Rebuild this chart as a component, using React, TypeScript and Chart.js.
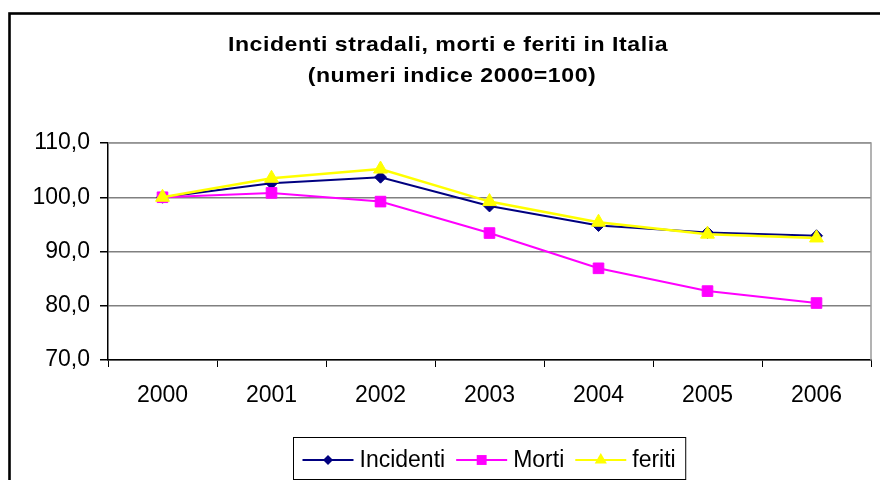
import React, { useEffect, useRef } from 'react';
import { Chart, registerables } from 'chart.js';

Chart.register(...registerables);

const years = ['2000', '2001', '2002', '2003', '2004', '2005', '2006'];
const incidenti = [100, 102.6, 103.7, 98.4, 94.8, 93.5, 92.9];
const morti = [100, 100.8, 99.2, 93.4, 86.9, 82.7, 80.5];
const feriti = [100, 103.5, 105.2, 99.2, 95.4, 93.2, 92.5];
const seriesNames = ['Incidenti', 'Morti', 'feriti'];
const titleLines = ['Incidenti stradali, morti e feriti in Italia', '(numeri indice 2000=100)'];
const yMin = 70;
const yMax = 110;
const yStep = 10;

const FONT = '"Liberation Sans", Arial, Helvetica, sans-serif';

function drawMarker(ctx: CanvasRenderingContext2D, style: string, x: number, y: number, r: number) {
  ctx.beginPath();
  if (style === 'rectRot') {
    ctx.moveTo(x - r, y);
    ctx.lineTo(x, y - r);
    ctx.lineTo(x + r, y);
    ctx.lineTo(x, y + r);
  } else if (style === 'rect') {
    const s = r * Math.SQRT1_2;
    ctx.rect(x - s, y - s, 2 * s, 2 * s);
  } else if (style === 'triangle') {
    ctx.moveTo(x, y - r);
    ctx.lineTo(x + r * Math.sin((2 * Math.PI) / 3), y + r * 0.5);
    ctx.lineTo(x - r * Math.sin((2 * Math.PI) / 3), y + r * 0.5);
  }
  ctx.closePath();
  ctx.fill();
}

const decorPlugin = {
  id: 'decor',
  beforeDraw(chart: any) {
    const { ctx } = chart;
    ctx.save();
    ctx.fillStyle = '#ffffff';
    ctx.fillRect(0, 0, chart.width, chart.height);
    ctx.strokeStyle = '#000000';
    ctx.lineWidth = 2.6;
    ctx.strokeRect(9.5, 13.5, chart.width + 20, chart.height + 20);
    ctx.restore();
  },
  beforeDatasetsDraw(chart: any) {
    const { ctx, chartArea } = chart;
    ctx.save();
    ctx.strokeStyle = '#9a9a9a';
    ctx.lineWidth = 1.5;
    ctx.beginPath();
    ctx.moveTo(chartArea.left, chartArea.top);
    ctx.lineTo(chartArea.right, chartArea.top);
    ctx.lineTo(chartArea.right, chartArea.bottom);
    ctx.stroke();
    ctx.restore();
  },
  afterDraw(chart: any) {
    const { ctx } = chart;
    ctx.save();
    // title (slightly widened glyphs, as in the reference)
    const sx = 1.1;
    ctx.save();
    ctx.scale(sx, 1);
    ctx.fillStyle = '#000000';
    ctx.font = `bold 21px ${FONT}`;
    ctx.textAlign = 'center';
    ctx.textBaseline = 'alphabetic';
    try { (ctx as any).letterSpacing = '0.5px'; } catch (e) {}
    ctx.fillText(titleLines[0], 448 / sx, 51);
    ctx.fillText(titleLines[1], 452 / sx, 81.5);
    try { (ctx as any).letterSpacing = '0px'; } catch (e) {}
    ctx.restore();

    // legend
    ctx.font = `23px ${FONT}`;
    const lineLen = 51;
    const gapText = 6;
    const gapItem = 11;
    const padL = 9;
    const padR = 10;
    const datasets = chart.data.datasets;
    let total = padL + padR;
    datasets.forEach((ds: any, i: number) => {
      total += lineLen + gapText + ctx.measureText(ds.label).width;
      if (i < datasets.length - 1) total += gapItem;
    });
    const boxLeft = Math.round(489 - total / 2) + 0.5;
    const boxTop = 437.5;
    const boxH = 42;
    ctx.strokeStyle = '#000000';
    ctx.lineWidth = 1;
    ctx.strokeRect(boxLeft, boxTop, total, boxH);
    let x = boxLeft + padL;
    const cy = 460;
    ctx.textAlign = 'left';
    ctx.textBaseline = 'alphabetic';
    datasets.forEach((ds: any) => {
      ctx.strokeStyle = ds.borderColor;
      ctx.lineWidth = 2;
      ctx.beginPath();
      ctx.moveTo(x, cy);
      ctx.lineTo(x + lineLen, cy);
      ctx.stroke();
      ctx.fillStyle = ds.pointBackgroundColor;
      drawMarker(ctx, ds.pointStyle, x + lineLen / 2, cy, ds.legendRadius);
      x += lineLen + gapText;
      ctx.fillStyle = '#000000';
      ctx.fillText(ds.label, x, 466.5);
      x += ctx.measureText(ds.label).width + gapItem;
    });
    ctx.restore();
  },
};

export default function App() {
  const ref = useRef<HTMLCanvasElement | null>(null);

  useEffect(() => {
    if (!ref.current) return;
    const chart = new Chart(ref.current, {
      type: 'line',
      data: {
        labels: years,
        datasets: [
          {
            label: seriesNames[0],
            data: incidenti,
            borderColor: '#000080',
            backgroundColor: '#000080',
            pointBackgroundColor: '#000080',
            pointBorderColor: '#000080',
            borderWidth: 2,
            pointStyle: 'rectRot',
            pointRadius: 6,
            pointBorderWidth: 1,
            legendRadius: 5,
            order: 2,
          } as any,
          {
            label: seriesNames[1],
            data: morti,
            borderColor: '#FF00FF',
            backgroundColor: '#FF00FF',
            pointBackgroundColor: '#FF00FF',
            pointBorderColor: '#FF00FF',
            borderWidth: 2,
            pointStyle: 'rect',
            pointRadius: 7.5,
            pointBorderWidth: 1,
            legendRadius: 7,
            order: 1,
          } as any,
          {
            label: seriesNames[2],
            data: feriti,
            borderColor: '#FFFF00',
            backgroundColor: '#FFFF00',
            pointBackgroundColor: '#FFFF00',
            pointBorderColor: '#FFFF00',
            borderWidth: 2.5,
            pointStyle: 'triangle',
            pointRadius: 8,
            pointBorderWidth: 1,
            legendRadius: 7,
            order: 0,
          } as any,
        ],
      },
      options: {
        responsive: false,
        animation: false,
        events: [],
        layout: { padding: { left: 0, right: 5, top: 143, bottom: 60 } },
        plugins: {
          legend: { display: false },
          title: { display: false },
          tooltip: { enabled: false },
        },
        elements: { line: { tension: 0 } },
        scales: {
          x: {
            offset: true,
            grid: {
              offset: true,
              drawOnChartArea: false,
              drawTicks: true,
              tickLength: 7,
              color: '#000000',
              lineWidth: 1,
            },
            border: { display: true, color: '#000000', width: 1.5 },
            ticks: {
              color: '#000000',
              font: { family: FONT, size: 23 },
              padding: 15,
              maxRotation: 0,
              autoSkip: false,
            },
            afterFit(scale: any) {
              scale.height = 60;
            },
          },
          y: {
            min: yMin,
            max: yMax,
            grid: {
              color: '#808080',
              lineWidth: 1.5,
              drawTicks: true,
              tickLength: 8,
              tickColor: '#000000',
            },
            border: { display: true, color: '#000000', width: 1.5 },
            ticks: {
              stepSize: yStep,
              color: '#000000',
              font: { family: FONT, size: 23 },
              padding: 10,
              callback: (v: any) => Number(v).toFixed(1).replace('.', ','),
            },
            afterFit(scale: any) {
              scale.width = 108;
            },
          },
        },
      },
      plugins: [decorPlugin],
    });
    return () => chart.destroy();
  }, []);

  return (
    <div style={{ position: 'fixed', left: 0, top: 0, width: 880, height: 480, background: '#fff' }}>
      <canvas ref={ref} width={880} height={480} style={{ display: 'block', width: 880, height: 480 }} />
    </div>
  );
}
